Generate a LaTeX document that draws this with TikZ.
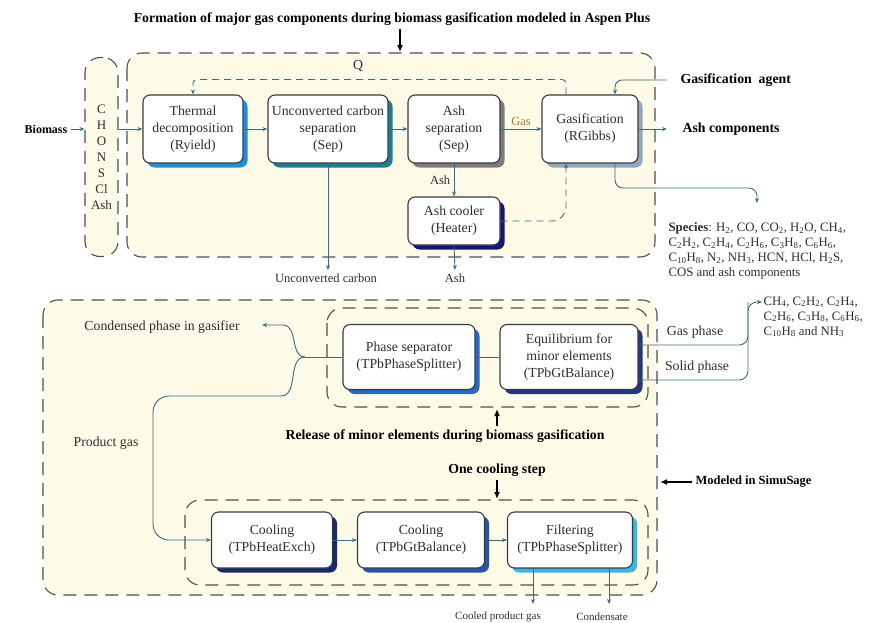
\documentclass[tikz,border=0pt]{standalone}
\usepackage{fontspec}
\setmainfont{Liberation Serif}
\usetikzlibrary{arrows.meta}
\usetikzlibrary{calc}
\usetikzlibrary{positioning}
\usetikzlibrary{shadows}

\definecolor{bgyellow}{HTML}{FDFBE8}
\definecolor{framec}{HTML}{4F4F4F}
\definecolor{flowc}{HTML}{3B6B7C}
\definecolor{boxc}{HTML}{3A3A3A}
\definecolor{textc}{HTML}{2E2E2E}
\definecolor{gasc}{HTML}{9C7A3C}
\definecolor{shthermal}{HTML}{1E8FD8}
\definecolor{shucs}{HTML}{1F7C95}
\definecolor{shashsep}{HTML}{7C7C7C}
\definecolor{shgasif}{HTML}{8FA9BC}
\definecolor{shcooler}{HTML}{14147A}
\definecolor{shphase}{HTML}{2A66C4}
\definecolor{shequil}{HTML}{233784}
\definecolor{shcoolA}{HTML}{17286E}
\definecolor{shcoolB}{HTML}{2653AE}
\definecolor{shfilt}{HTML}{3AB6E4}

\newcommand{\sbs}[1]{\textsubscript{#1}}
\newcommand{\boxfont}{\fontsize{13.8}{17}\selectfont}
\newcommand{\labfont}{\fontsize{13.8}{16}\selectfont\bfseries}
\newcommand{\midfont}{\fontsize{12.5}{15}\selectfont}
\newcommand{\smallfont}{\fontsize{12.8}{15}\selectfont}
\newcommand{\tinyfont}{\fontsize{11}{13}\selectfont}

\begin{document}
\begin{tikzpicture}
[x=1pt,y=-1pt,
  unitbox/.style={draw=boxc,line width=1.1pt,rounded corners=7pt,fill=white,
    align=center,font=\boxfont,text=textc,inner sep=1pt,
    drop shadow={shadow xshift=4.5pt,shadow yshift=-4.5pt,fill=#1,opacity=1}},
  zone/.style={draw=framec,line width=1.1pt,dash pattern=on 13pt off 8pt,
    rounded corners=15pt,fill=bgyellow},
  colbox/.style={zone,minimum width=33pt,minimum height=199pt,inner sep=0pt,
    align=center,font=\fontsize{13}{16}\selectfont,text=textc},
  flowline/.style={draw=flowc,line width=0.9pt,-{Stealth[length=5pt,width=4pt]}},
  plainline/.style={draw=flowc,line width=0.9pt},
  dashline/.style={flowline,dash pattern=on 7pt off 5pt},
  bigarrow/.style={draw=black,line width=1.4pt,-{Latex[length=7pt,width=6pt]}},
  boldlabel/.style={font=\labfont,text=black},
  plainlabel/.style={font=\boxfont,text=textc},
  midlabel/.style={font=\midfont,text=textc},
  smalllabel/.style={font=\smallfont,text=textc,align=left}]
\useasboundingbox (0,0) rectangle (874,622);

%% zones
\draw[zone] (127,53) rectangle (655,257);
\draw[zone] (43,300) rectangle (657,595);
\draw[zone] (327,308) rectangle (648,407);
\draw[zone] (185,500) rectangle (648,585);
\node[colbox] (col) at (101.5,157) {C\\H\\O\\N\\S\\Cl\\Ash};

%% unit operations
\foreach \nodename/\x/\y/\bw/\bh/\shade/\txt in {
  thermal/193/129/100/68/shthermal/{Thermal\\decomposition\\(Ryield)},
  ucs/328/129/120/68/shucs/{Unconverted carbon\\separation\\(Sep)},
  ashsep/454/129/92/68/shashsep/{Ash\\separation\\(Sep)},
  gasif/590/129/96/68/shgasif/{Gasification\\(RGibbs)},
  cooler/454/221/92/48/shcooler/{Ash cooler\\(Heater)},
  phasesep/409/357/132/65/shphase/{Phase separator\\(TPbPhaseSplitter)},
  equil/569/357/138/65/shequil/{Equilibrium for\\minor elements\\(TPbGtBalance)},
  coolA/272/540/121/56/shcoolA/{Cooling\\(TPbHeatExch)},
  coolB/421/540/127/56/shcoolB/{Cooling\\(TPbGtBalance)},
  filt/570/540/125/56/shfilt/{Filtering\\(TPbPhaseSplitter)}}
{
  \node[unitbox=\shade,minimum width=\bw pt,minimum height=\bh pt] (\nodename) at (\x,\y) {\txt};
}

%% labels
\node[boldlabel] (title) at (392,19) {Formation of major gas components during biomass gasification modeled in Aspen Plus};
\node[boldlabel,font=\fontsize{12}{14}\selectfont\bfseries] (biomass) at (46,129) {Biomass};
\node[boldlabel,anchor=west] (agent) at (677,80) {Gasification\ \ agent};
\node[boldlabel,anchor=west] (ashcomp) at (679,129) {Ash components};
\node[plainlabel] (qlab) at (358,66) {Q};
\node[midlabel] (uctxt) at (326,278) {Unconverted carbon};
\node[midlabel] (ashtxt) at (455,278) {Ash};
\node[smalllabel,anchor=north west] (spc) at (665,219)
  {\textbf{Species}: H\sbs2, CO, CO\sbs2, H\sbs2O, CH\sbs4,\\
   C\sbs2H\sbs2, C\sbs2H\sbs4, C\sbs2H\sbs6, C\sbs3H\sbs8, C\sbs6H\sbs6,\\
   C\sbs{10}H\sbs8, N\sbs2, NH\sbs3, HCN, HCl, H\sbs2S,\\
   COS and ash components};
\node[plainlabel] (cond) at (162,327) {Condensed phase in gasifier};
\node[plainlabel] (pgas) at (106,443) {Product gas};
\node[boldlabel] (rel) at (445,436) {Release of minor elements during biomass gasification};
\node[boldlabel] (cstep) at (497,470) {One cooling step};
\node[boldlabel,font=\fontsize{12.5}{14}\selectfont\bfseries,anchor=west] (sims) at (692,482) {Modeled in SimuSage};
\node[plainlabel] (gasph) at (695,332) {Gas phase};
\node[plainlabel] (solidph) at (697,367) {Solid phase};
\node[smalllabel,anchor=north west] (ch4) at (760,293)
  {CH\sbs4, C\sbs2H\sbs2, C\sbs2H\sbs4,\\
   C\sbs2H\sbs6, C\sbs3H\sbs8, C\sbs6H\sbs6,\\
   C\sbs{10}H\sbs8 and NH\sbs3};
\node[font=\tinyfont,text=textc] (cpg) at (498,617) {Cooled product gas};
\node[font=\tinyfont,text=textc] (cdst) at (602,617) {Condensate};

%% free ends
\coordinate (topin) at (400,52);
\coordinate (relin) at (497,409);
\coordinate (coolin) at (497,499);
\coordinate (simsin) at (660,482);
\coordinate (spcin) at (757,203);
\coordinate (jn) at (305,357);
\coordinate (upbend) at (283,325);
\coordinate (lowbend) at (281,396);
\coordinate (pgturn) at (153,540);
\coordinate (condin) at (262,325);
\coordinate (vt) at (748,302);
\coordinate (ch4in) at (762,302);
\coordinate (cpgin) at (533,604);
\coordinate (cdstin) at (609,604);

%% section arrows
\draw[bigarrow] (title.south -| topin) -- (topin);
\draw[bigarrow] (rel.north -| relin) -- (relin);
\draw[bigarrow] (cstep.south) -- (coolin);
\draw[bigarrow] (sims.west) -- (simsin);

%% streams
\draw[flowline] (biomass.east) -- (col.west |- biomass.east);
\draw[flowline] (col.east |- thermal.west) -- (thermal.west);
\foreach \startnode/\endnode in {thermal/ucs, ucs/ashsep, coolA/coolB, coolB/filt}
{
  \draw[flowline] (\startnode) -- (\endnode);
}
\draw[flowline] (ashsep) -- node[above,font=\midfont,text=gasc] {Gas} (gasif);
\draw[flowline] (ashsep) -- node[left,font=\midfont,text=textc] {Ash} (cooler);
\draw[flowline] (gasif.east) -- ([xshift=-12pt]ashcomp.west);
\draw[flowline,rounded corners=7pt] ([xshift=-10pt]agent.west) -| ([xshift=25pt]gasif.north);
\draw[dashline,rounded corners=4pt] ([xshift=-24pt]gasif.north) -- ++(0,-15) -| (thermal.north);
\draw[dashline,rounded corners=14pt] (cooler.east) -| ([xshift=-24pt]gasif.south);
\draw[flowline] (cooler.south) -- (ashtxt.north);
\draw[flowline] (ucs.south) -- (ucs.south |- uctxt.north);
\draw[flowline,rounded corners=8pt] ([xshift=25pt]gasif.south) |- ([yshift=15pt]spcin) -- (spcin);
\draw[plainline] (equil.west) -- (phasesep.east);
\draw[plainline] (phasesep.west) -- (jn);
\draw[flowline] (jn) to[out=180,in=0] (upbend) -- (condin);
\draw[flowline] (jn) to[out=180,in=0] (lowbend) [rounded corners=16pt] -| (pgturn) -- (coolA.west);
\draw[plainline,rounded corners=9pt] ([yshift=12pt]equil.east) -| (vt);
\draw[flowline,rounded corners=9pt] ([yshift=-23pt]equil.east) -| (vt) -- (ch4in);
\draw[flowline] (filt.south -| cpgin) -- (cpgin);
\draw[flowline] (filt.south -| cdstin) -- (cdstin);
\end{tikzpicture}
\end{document}
